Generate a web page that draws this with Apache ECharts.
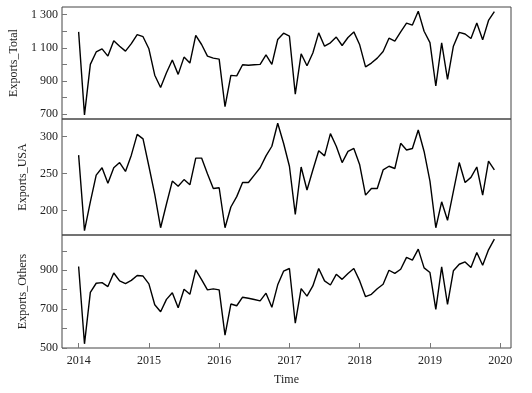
<!DOCTYPE html>
<html>
<head>
<meta charset="utf-8">
<script src="https://cdn.jsdelivr.net/npm/echarts@6/dist/echarts.min.js"></script>
<style>html,body{margin:0;padding:0;background:#fff;}#c{width:532px;height:393px;}</style>
</head>
<body>
<div id="c"></div>
<script>
// Monthly series, Jan 2014 – Dec 2019
var startYear = 2014;
var exportsTotal = [1196, 696, 1000, 1075, 1094, 1050, 1143, 1110, 1080, 1125, 1180, 1167,
  1094, 935, 861, 950, 1027, 940, 1044, 1008, 1175, 1120, 1050, 1038,
  1032, 745, 934, 931, 998, 995, 998, 1000, 1057, 1000, 1150, 1188,
  1170, 821, 1064, 992, 1069, 1190, 1110, 1130, 1165, 1114, 1162, 1196,
  1118, 985, 1008, 1038, 1078, 1158, 1140, 1196, 1249, 1237, 1321, 1200,
  1131, 870, 1130, 910, 1110, 1193, 1183, 1156, 1250, 1148, 1265, 1318];
var exportsUSA = [275, 173, 212, 248, 258, 237, 258, 265, 253, 275, 303, 297,
  260, 222, 177, 209, 240, 233, 242, 235, 271, 271, 250, 230,
  231, 177, 205, 219, 238, 238, 248, 258, 274, 287, 318, 291,
  260, 195, 259, 228, 255, 281, 274, 304, 287, 265, 280, 284,
  262, 221, 230, 230, 255, 260, 257, 291, 282, 284, 309, 280,
  240, 177, 212, 187, 226, 265, 238, 245, 259, 221, 267, 255];
var exportsOthers = [919, 521, 786, 833, 836, 816, 886, 845, 831, 848, 873, 870,
  830, 722, 686, 750, 784, 707, 802, 776, 902, 852, 799, 804,
  799, 566, 726, 717, 761, 756, 749, 742, 782, 709, 825, 895,
  909, 627, 805, 767, 819, 909, 845, 824, 879, 853, 883, 909,
  845, 764, 776, 805, 828, 900, 884, 905, 966, 952, 1009, 912,
  888, 698, 917, 724, 897, 931, 943, 914, 991, 926, 1005, 1060];
var xTicks = [2014, 2015, 2016, 2017, 2018, 2019, 2020];
var totalTicks = [700, 800, 900, 1000, 1100, 1200, 1300];
var totalLabels = [700, 900, 1100, 1300];
var usaTicks = [200, 250, 300];
var othersTicks = [500, 600, 700, 800, 900, 1000];
var othersLabels = [500, 700, 900];
var names = ['Exports_Total', 'Exports_USA', 'Exports_Others'];

function pairs(arr) {
  return arr.map(function (v, i) { return [startYear + i / 12, v]; });
}
function ext(arr) {
  var mn = Math.min.apply(null, arr), mx = Math.max.apply(null, arr), r = mx - mn;
  return [mn - 0.04 * r, mx + 0.04 * r];
}
var n = exportsTotal.length;
var xMin = startYear - 0.04 * (n - 1) / 12;
var xMax = startYear + (n - 1) / 12 + 0.04 * (n - 1) / 12;

var font = 'Liberation Serif';
var txt = { fontFamily: font, fontSize: 12, color: '#222' };
function fmt(v) {
  v = Math.round(v);
  if (v >= 1000) { var s = String(v); return s.slice(0, s.length - 3) + ' ' + s.slice(-3); }
  return String(v);
}
var grids = [
  { left: 62, right: 21, top: 7, height: 112 },
  { left: 62, right: 21, top: 119, height: 116 },
  { left: 62, right: 21, top: 235, height: 113 }
].map(function (g) { g.show = true; g.borderColor = '#444'; g.borderWidth = 1; g.backgroundColor = 'transparent'; return g; });

var tickStyle = { show: true, inside: true, length: 5, lineStyle: { color: '#777', width: 1 } };
function xAxis(i, showLabels) {
  return {
    type: 'value', gridIndex: i, min: xMin, max: xMax,
    axisLine: { show: false }, splitLine: { show: false },
    axisTick: showLabels ? Object.assign({ customValues: xTicks }, tickStyle) : { show: false },
    axisLabel: showLabels ? Object.assign({ customValues: xTicks, margin: 7, formatter: function (v) { return String(Math.round(v)); } }, txt) : { show: false },
    name: showLabels ? 'Time' : '', nameLocation: 'middle', nameGap: 26,
    nameTextStyle: txt
  };
}
function yAxis(i, data, ticks, labels) {
  var e = ext(data);
  return {
    type: 'value', gridIndex: i, min: e[0], max: e[1],
    axisLine: { show: false }, splitLine: { show: false },
    axisTick: Object.assign({ customValues: ticks }, tickStyle),
    axisLabel: Object.assign({ customValues: labels, margin: 4, formatter: fmt }, txt),
    name: names[i], nameLocation: 'middle', nameRotate: 90, nameGap: 31,
    nameTextStyle: txt
  };
}
var lineStyle = { color: '#000', width: 1.4 };
var option = {
  animation: false,
  backgroundColor: '#fff',
  grid: grids,
  xAxis: [xAxis(0, false), xAxis(1, false), xAxis(2, true)],
  yAxis: [
    yAxis(0, exportsTotal, totalTicks, totalLabels),
    yAxis(1, exportsUSA, usaTicks, usaTicks),
    yAxis(2, exportsOthers, othersTicks, othersLabels)
  ],
  series: [exportsTotal, exportsUSA, exportsOthers].map(function (arr, i) {
    return { type: 'line', xAxisIndex: i, yAxisIndex: i, data: pairs(arr), showSymbol: false, symbol: 'none', lineStyle: lineStyle, z: 3 };
  })
};
var chart = echarts.init(document.getElementById('c'), null, { renderer: 'canvas' });
chart.setOption(option);
</script>
</body>
</html>
